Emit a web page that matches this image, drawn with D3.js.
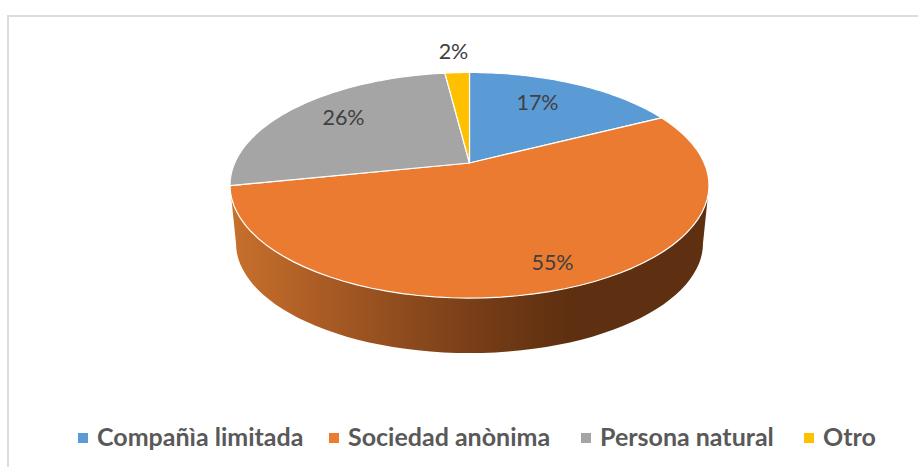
<!DOCTYPE html>
<html><head><meta charset="utf-8">
<script src="https://cdn.jsdelivr.net/npm/d3@7/dist/d3.min.js"></script>
<style>html,body{margin:0;padding:0;background:#fff}svg{display:block}text{font-family:Lato,"Open Sans",sans-serif}</style>
</head><body><div id="c"></div>
<script>
const categories = ["Compañìa limitada","Sociedad anònima","Persona natural","Otro"];
const values = [17.5,54.3,26.2,2];
const percentLabels = ["17%","55%","26%","2%"];
const colors = ["#5B9BD5","#EA7B30","#A5A5A5","#FFC000"];

const W=918,H=467;
const svg=d3.select("#c").append("svg").attr("width",W).attr("height",H);
// frame
svg.append("path").attr("d",`M8 ${H}V16H${W}`).attr("fill","none").attr("stroke","#dcdcdc").attr("stroke-width",2);

// perspective disc projection
const cx=469.5,cy=163,a=0.1974,b=108.4,r=234.8;
function project(t,rho=1,s=1,dy=0){
  const X=rho*Math.sin(t),Y=-rho*Math.cos(t),w=1-a*Y;
  return [cx+s*r*X/w, cy+dy+s*b*Y/w];
}
const arcs=d3.pie().sort(null).value(d=>d)(values);
const curve=(t0,t1,s=1,dy=0)=>d3.range(0,61).map(i=>project(t0+(t1-t0)*i/60,1,s,dy));
const line=d3.line();

// side wall
const defs=svg.append("defs");
const grad=defs.append("linearGradient").attr("id","side").attr("gradientUnits","userSpaceOnUse")
  .attr("x1",232).attr("x2",570).attr("y1",0).attr("y2",0);
[[0,"#c8702c"],[.25,"#ac5d25"],[.5,"#8f4c1e"],[.75,"#743c16"],[1,"#5e2f10"]]
  .forEach(([o,c])=>grad.append("stop").attr("offset",o).attr("stop-color",c));
const tR=Math.acos(-a), tL=2*Math.PI-tR, sLow=0.975, dyLow=58.4;
svg.append("path").attr("fill","url(#side)")
  .attr("d",line(curve(tR,tL).concat(curve(tL,tR,sLow,dyLow)))+"Z");

// slices
svg.append("g").selectAll("path").data(arcs).join("path")
  .attr("fill",(d,i)=>colors[i]).attr("stroke","#fff").attr("stroke-width",1.2).attr("stroke-linejoin","round")
  .attr("d",d=>line([[cx,cy]].concat(curve(d.startAngle,d.endAngle)))+"Z");

// data labels (offset from the pie centre)
const labelOffsets=[[68,-61],[83,99],[-126,-46],[-16,-112]];
svg.append("g").selectAll("text").data(arcs).join("text")
  .attr("x",(d,i)=>cx+labelOffsets[i][0]).attr("y",(d,i)=>cy+labelOffsets[i][1])
  .attr("text-anchor","middle").attr("dominant-baseline","central")
  .attr("font-size",21.5).attr("fill","#404040")
  .text((d,i)=>percentLabels[i]);

// legend
const legendX=[78,329,581,804];
const lg=svg.append("g").selectAll("g").data(categories).join("g")
  .attr("transform",(d,i)=>`translate(${legendX[i]},433)`);
lg.append("rect").attr("width",10).attr("height",10).attr("fill",(d,i)=>colors[i]);
lg.append("text").attr("x",19).attr("y",12.5).attr("font-size",25).attr("font-weight",700).attr("fill","#595959").text(d=>d);
</script></body></html>
